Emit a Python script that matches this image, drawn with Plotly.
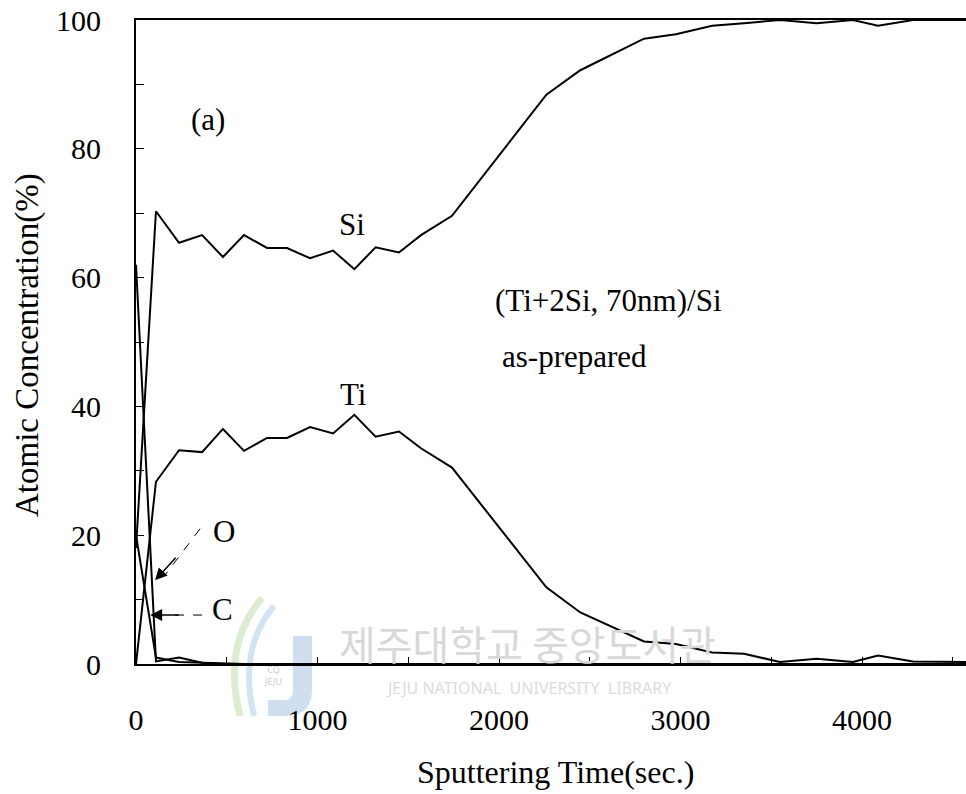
import plotly.graph_objects as go

# ---- data ----
time_s = [0, 110, 237, 364, 479, 595, 722, 832, 959, 1086, 1203, 1320, 1449, 1570,
          1741, 2261, 2448, 2799, 2975, 3174, 3350, 3548, 3750, 3950, 4088, 4281, 4600]
si = [18, 70.3, 65.4, 66.6, 63.2, 66.6, 64.6, 64.6, 63.0, 64.2, 61.3, 64.7, 63.9, 66.6,
      69.6, 88.4, 92.2, 97.1, 97.8, 99.1, 99.5, 100.0, 99.5, 100.0, 99.1, 100.0, 100.0]
ti = [0, 28.3, 33.2, 32.9, 36.5, 33.1, 35.1, 35.1, 36.8, 35.8, 38.7, 35.3, 36.1, 33.5,
      30.5, 11.9, 8.0, 3.5, 3.1, 1.8, 1.6, 0.3, 0.8, 0.3, 1.3, 0.4, 0.3]
time_co = [0, 110, 237, 364, 479, 600, 4600]
o_conc = [20, 1.0, 0.3, 0.2, 0.1, 0.0, 0.0]
c_conc = [62, 0.4, 1.0, 0.2, 0.0, 0.0, 0.0]

x_ticks = [0, 1000, 2000, 3000, 4000]
y_ticks = [0, 20, 40, 60, 80, 100]

SERIF = "Liberation Serif"
line = dict(color="black", width=2)

L, R, T, B = 136, 966, 20, 664   # plot area in pixels


def px(x):
    return (x - L) / (R - L)


def py(y):
    return (B - y) / (B - T)


fig = go.Figure()
for name, xs, ys in [("Si", time_s, si), ("Ti", time_s, ti),
                     ("O", time_co, o_conc), ("C", time_co, c_conc)]:
    fig.add_trace(go.Scatter(x=xs, y=ys, mode="lines", name=name, line=line,
                             showlegend=False, cliponaxis=True))

XMAX = 4573

# ---- pale library watermark ----
j_path = ("M {a},{b} L {c},{b} L {c},{d} Q {c},{e} {f},{e} L {g},{e} L {g},{h} "
          "L {f},{h} Q {a},{h} {a},{d} Z").format(
    a=px(293), b=py(636), c=px(312), d=py(690), e=py(716), f=px(285), g=px(268), h=py(700))
fig.add_shape(type="path", path=j_path, xref="paper", yref="paper", layer="below",
              fillcolor="#bcd2ea", line=dict(width=0), opacity=0.7)
fig.add_shape(type="path", xref="paper", yref="paper", layer="below",
              path="M {},{} Q {},{} {},{}".format(px(262), py(598), px(222), py(645), px(240), py(716)),
              line=dict(color="#dcecd0", width=7))
fig.add_shape(type="path", xref="paper", yref="paper", layer="below",
              path="M {},{} Q {},{} {},{}".format(px(274), py(606), px(238), py(648), px(254), py(716)),
              line=dict(color="#d2e4f3", width=6))
fig.add_annotation(x=px(262), y=py(690), xref="paper", yref="paper", showarrow=False,
                   text="CQ<br>JEJU", font=dict(family="Noto Sans", size=9, color="#cccccc"))
fig.add_annotation(x=px(527), y=py(643), xref="paper", yref="paper", showarrow=False,
                   xanchor="center", yanchor="middle", text="제주대학교 중앙도서관",
                   font=dict(family="Noto Sans CJK KR", size=40, color="#d8d8d8"))
fig.add_annotation(x=px(529), y=py(688), xref="paper", yref="paper", showarrow=False,
                   xanchor="center", yanchor="middle", text="JEJU NATIONAL  UNIVERSITY  LIBRARY",
                   font=dict(family="Noto Sans", size=16, color="#dcdcdc"))

# ---- text labels in the plot ----
txt = dict(family=SERIF, size=31, color="black")
fig.add_annotation(x=397, y=84.6, text="(a)", showarrow=False, font=txt)
fig.add_annotation(x=1190, y=68.2, text="Si", showarrow=False, font=txt)
fig.add_annotation(x=1201, y=41.9, text="Ti", showarrow=False, font=txt)
fig.add_annotation(x=1965, y=56.5, text="(Ti+2Si, 70nm)/Si", showarrow=False,
                   xanchor="left", font=txt)
fig.add_annotation(x=2003, y=47.8, text="as-prepared", showarrow=False,
                   xanchor="left", font=txt)
fig.add_annotation(x=485, y=20.5, text="O", showarrow=False, font=txt)
fig.add_annotation(x=479, y=8.4, text="C", showarrow=False, font=txt)

# arrows O and C (dashed shaft + filled head)
fig.add_shape(type="line", x0=353, y0=21.0, x1=165, y1=14.0,
              line=dict(color="black", width=1, dash="dash"))
fig.add_annotation(x=105, y=13.0, ax=22, ay=-24, text="", showarrow=True,
                   arrowhead=2, arrowsize=1.6, arrowwidth=1.5, arrowcolor="black")
fig.add_shape(type="line", x0=364, y0=7.6, x1=170, y1=7.6,
              line=dict(color="black", width=1, dash="dash"))
fig.add_annotation(x=78, y=7.6, ax=30, ay=0, text="", showarrow=True,
                   arrowhead=2, arrowsize=1.6, arrowwidth=1.5, arrowcolor="black")

# ---- axis titles ----
fig.add_annotation(x=px(28), y=py(345), xref="paper", yref="paper",
                   xanchor="center", yanchor="middle",
                   text="Atomic Concentration(%)", textangle=-90, showarrow=False,
                   font=dict(family=SERIF, size=33, color="black"))
fig.add_annotation(x=px(555), y=py(772), xref="paper", yref="paper",
                   xanchor="center", yanchor="middle",
                   text="Sputtering Time(sec.)", showarrow=False,
                   font=dict(family=SERIF, size=32, color="black"))

fig.update_layout(
    width=966, height=794,
    margin=dict(l=L, r=966 - R, t=T, b=794 - B),
    paper_bgcolor="white", plot_bgcolor="rgba(0,0,0,0)",
    font=dict(family=SERIF, size=29, color="black"),
    xaxis=dict(range=[0, XMAX], showgrid=False, zeroline=False,
               showline=True, linecolor="black", linewidth=2, mirror=True,
               tickmode="array", tickvals=x_ticks, ticktext=[str(v) for v in x_ticks],
               ticks="inside", ticklen=7, tickwidth=1, tickcolor="black",
               minor=dict(dtick=500, ticks="inside", ticklen=7, tickcolor="black"),
               ticklabelstandoff=28, tickfont=dict(family=SERIF, size=30)),
    yaxis=dict(range=[0, 100], showgrid=False, zeroline=False,
               showline=True, linecolor="black", linewidth=2, mirror=False,
               tickmode="array", tickvals=y_ticks, ticktext=[str(v) for v in y_ticks],
               ticks="inside", ticklen=8, tickwidth=1, tickcolor="black",
               minor=dict(dtick=10, ticks="inside", ticklen=8, tickcolor="black"),
               ticklabelstandoff=27, tickfont=dict(family=SERIF, size=30)),
)

fig.write_html("out.html")
